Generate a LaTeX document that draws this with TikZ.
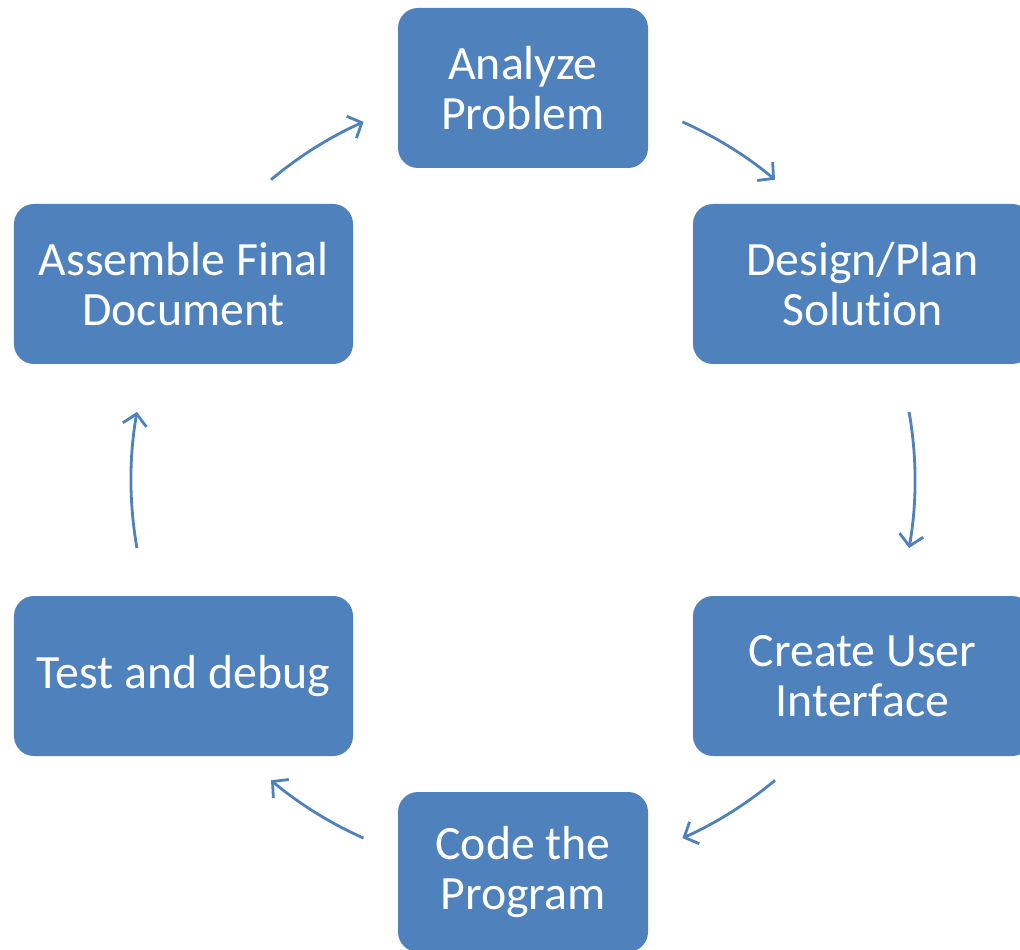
\documentclass[tikz,border=0pt]{standalone}
\usepackage{fontspec}
\setmainfont{Carlito}[Ligatures={NoCommon,NoContextual}, RawFeature=-liga]
\usepackage{tikz}
\usetikzlibrary{arrows.meta}

\definecolor{stepblue}{HTML}{4F81BD}

\begin{document}
\begin{tikzpicture}[>={Straight Barb[length=2.8mm, width=6mm]},
    stepbox/.style={fill=stepblue, text=white, rounded corners=0.5cm,
        minimum height=4cm, inner sep=0pt, align=center,
        font=\fontsize{34}{35.5}\selectfont},
    narrowbox/.style={stepbox, minimum width=6.25cm},
    widebox/.style={stepbox, minimum width=8.475cm},
    flow/.style={->, stepblue, line width=2pt}]

    % Rahmen
    \clip (0,0) rectangle (25.5,23.725);

    % Schritte
    \node[narrowbox] (analyze)  at (13.075,21.525) {Analyze\\Problem};
    \node[widebox]   (design)   at (21.5625,16.625) {Design/Plan\\Solut\kern0pt ion};
    \node[widebox]   (create)   at (21.5625,6.825) {Create User\\Interface};
    \node[narrowbox] (code)     at (13.075,1.925) {Code the\\Program};
    \node[widebox]   (test)     at (4.5875,6.825) {Test and debug};
    \node[widebox]   (assemble) at (4.5875,16.625) {Assemble Final\\Document};

    % Kreislauf
    \coordinate (hub) at (13.075,11.725);
    \foreach \a/\b in {66/50, 10/-10, -50/-66, -114/-130, -170/-190, 130/114}{
        \draw[flow] ([shift={(\a:9.8)}]hub) arc[start angle=\a, end angle=\b, radius=9.8];
    }

\end{tikzpicture}
\end{document}
